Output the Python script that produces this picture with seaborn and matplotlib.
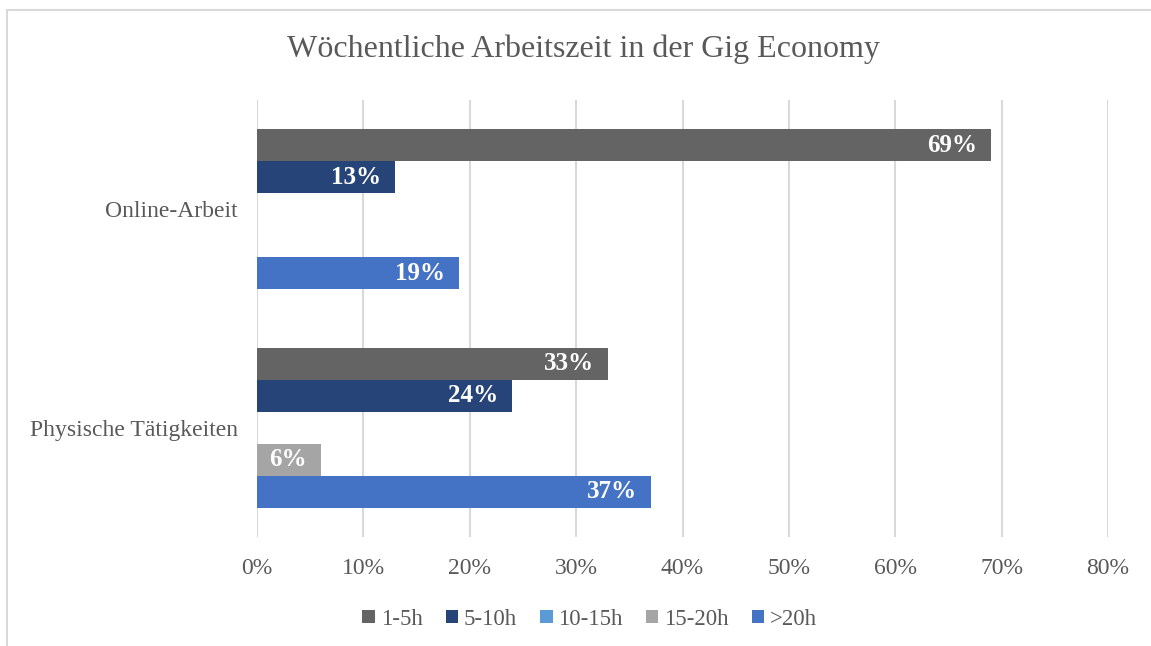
import pandas as pd
import numpy as np
import matplotlib
matplotlib.use('Agg')
import matplotlib.pyplot as plt
from matplotlib.lines import Line2D
from matplotlib.ticker import PercentFormatter
import seaborn as sns


categories = ['Online-Arbeit', 'Physische Tätigkeiten']
hours = ['1-5h', '5-10h', '10-15h', '15-20h', '>20h']
# values in percent, one list per category (0 = no bar)
online = [69, 13, 0, 0, 19]
physisch = [33, 24, 0, 6, 37]
colors = ['#646464', '#264478', '#5B9BD5', '#A5A5A5', '#4472C4']

rows = []
for cat, vals in zip(categories, [online, physisch]):
    for h, v in zip(hours, vals):
        rows.append({'Bereich': cat, 'Stunden': h, 'Anteil': v})
df = pd.DataFrame(rows)

sns.set_style('white')
plt.rcParams['font.family'] = ['Liberation Serif', 'DejaVu Serif']
grey = '#595959'

fig = plt.figure(figsize=(11.51, 6.46), dpi=100)
ax = fig.add_axes([0.2233, 0.1687, 0.7394, 0.6765])

sns.barplot(data=df, y='Bereich', x='Anteil', hue='Stunden',
            order=categories, hue_order=hours, palette=colors,
            orient='h', width=0.73, saturation=1, linewidth=0, ax=ax)

ax.set_xlim(0, 80)
ax.set_xticks(np.arange(0, 81, 10))
ax.xaxis.set_major_formatter(PercentFormatter(decimals=0))
ax.grid(axis='x', color='#D9D9D9', linewidth=1.5)
ax.set_axisbelow(True)
for s in ax.spines.values():
    s.set_visible(False)
ax.set_xlabel('')
ax.set_ylabel('')
ax.tick_params(axis='both', length=0, labelsize=17, colors=grey)
ax.tick_params(axis='x', pad=15)
ax.tick_params(axis='y', pad=14)

# value labels inside bar ends
for p in ax.patches:
    w = p.get_width()
    if w > 0:
        ax.text(w - 1.3, p.get_y() + p.get_height() / 2, f'{w:.0f}%',
                ha='right', va='center', color='white',
                fontsize=18, fontweight='bold')

sns.move_legend(ax, 'center', bbox_to_anchor=(0.391, -0.188), ncol=5,
                frameon=False, title=None, fontsize=16.5,
                handlelength=0.55, handleheight=0.55,
                handletextpad=0.25, columnspacing=1.0)
for t in ax.get_legend().get_texts():
    t.set_color(grey)

fig.text(0.507, 0.923, 'Wöchentliche Arbeitszeit in der Gig Economy',
         ha='center', va='center', fontsize=23, color=grey)

# light frame around chart area
fx = 7 / 1151
fy = 1 - 10 / 646
fig.add_artist(Line2D([fx, fx], [0, fy], color='#D9D9D9', linewidth=1.5,
                      transform=fig.transFigure))
fig.add_artist(Line2D([fx, 1], [fy, fy], color='#D9D9D9', linewidth=1.5,
                      transform=fig.transFigure))

fig.savefig('out.png', dpi=100)
